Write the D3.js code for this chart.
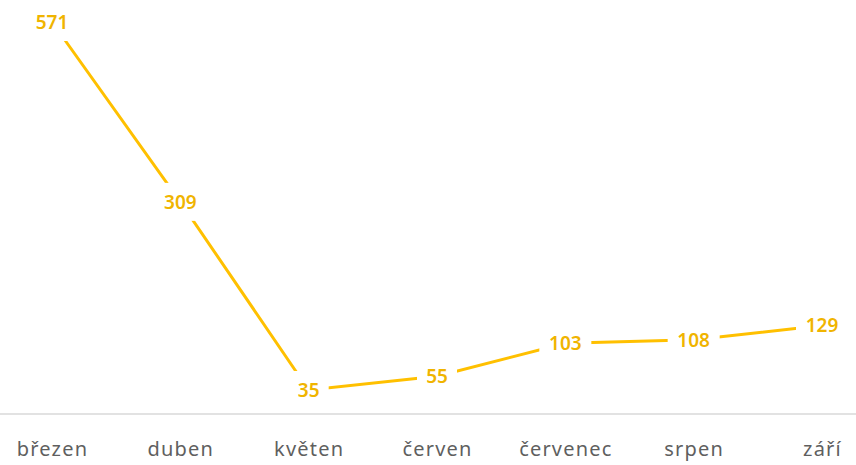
<!DOCTYPE html>
<html>
<head>
<meta charset="utf-8">
<script src="https://cdn.jsdelivr.net/npm/d3@7"></script>
<style>
  body { margin: 0; background: #fff; }
  svg { display: block; }
</style>
</head>
<body>
<div id="chart"></div>
<script>
const months = ['březen', 'duben', 'květen', 'červen', 'červenec', 'srpen', 'září'];
const counts = [571, 309, 35, 55, 103, 108, 129];

const width = 856, height = 465;
const svg = d3.select('#chart').append('svg')
  .attr('width', width)
  .attr('height', height);

const x = d3.scalePoint()
  .domain(months)
  .range([52, 822]);

const y = d3.scaleLinear()
  .domain([0, 571])
  .range([414, 22]);

// axis line + category labels
const xAxis = svg.append('g')
  .attr('transform', 'translate(0,' + y(0) + ')')
  .call(d3.axisBottom(x).tickSize(0).tickPadding(28));
xAxis.select('.domain').remove();
xAxis.append('line')
  .attr('x1', 0).attr('x2', width)
  .attr('stroke', '#d9d9d9')
  .attr('stroke-width', 1.5);
xAxis.selectAll('.tick text')
  .attr('fill', '#5f5f5f')
  .style('font-family', '"Noto Sans", sans-serif')
  .style('font-size', '20px')
  .style('letter-spacing', '1.2px');

const data = months.map((m, i) => ({ m: m, v: counts[i] }));

const line = d3.line()
  .x(d => x(d.m))
  .y(d => y(d.v));

svg.append('path')
  .datum(data)
  .attr('fill', 'none')
  .attr('stroke', '#ffc000')
  .attr('stroke-width', 3)
  .attr('stroke-linecap', 'round')
  .attr('d', line);

// data labels with white box so the line breaks around them
const labels = svg.append('g').selectAll('g')
  .data(data)
  .join('g')
  .attr('transform', d => 'translate(' + x(d.m) + ',' + y(d.v) + ')');

labels.append('rect')
  .attr('x', d => -String(d.v).length * 6 - 8)
  .attr('y', -19)
  .attr('width', d => String(d.v).length * 12 + 16)
  .attr('height', 38)
  .attr('fill', '#fff');

labels.append('text')
  .attr('text-anchor', 'middle')
  .attr('dy', '0.36em')
  .attr('fill', '#f0b400')
  .style('font-family', '"Noto Sans", sans-serif')
  .style('font-size', '19px')
  .style('font-weight', 600)
  .text(d => d.v);
</script>
</body>
</html>
